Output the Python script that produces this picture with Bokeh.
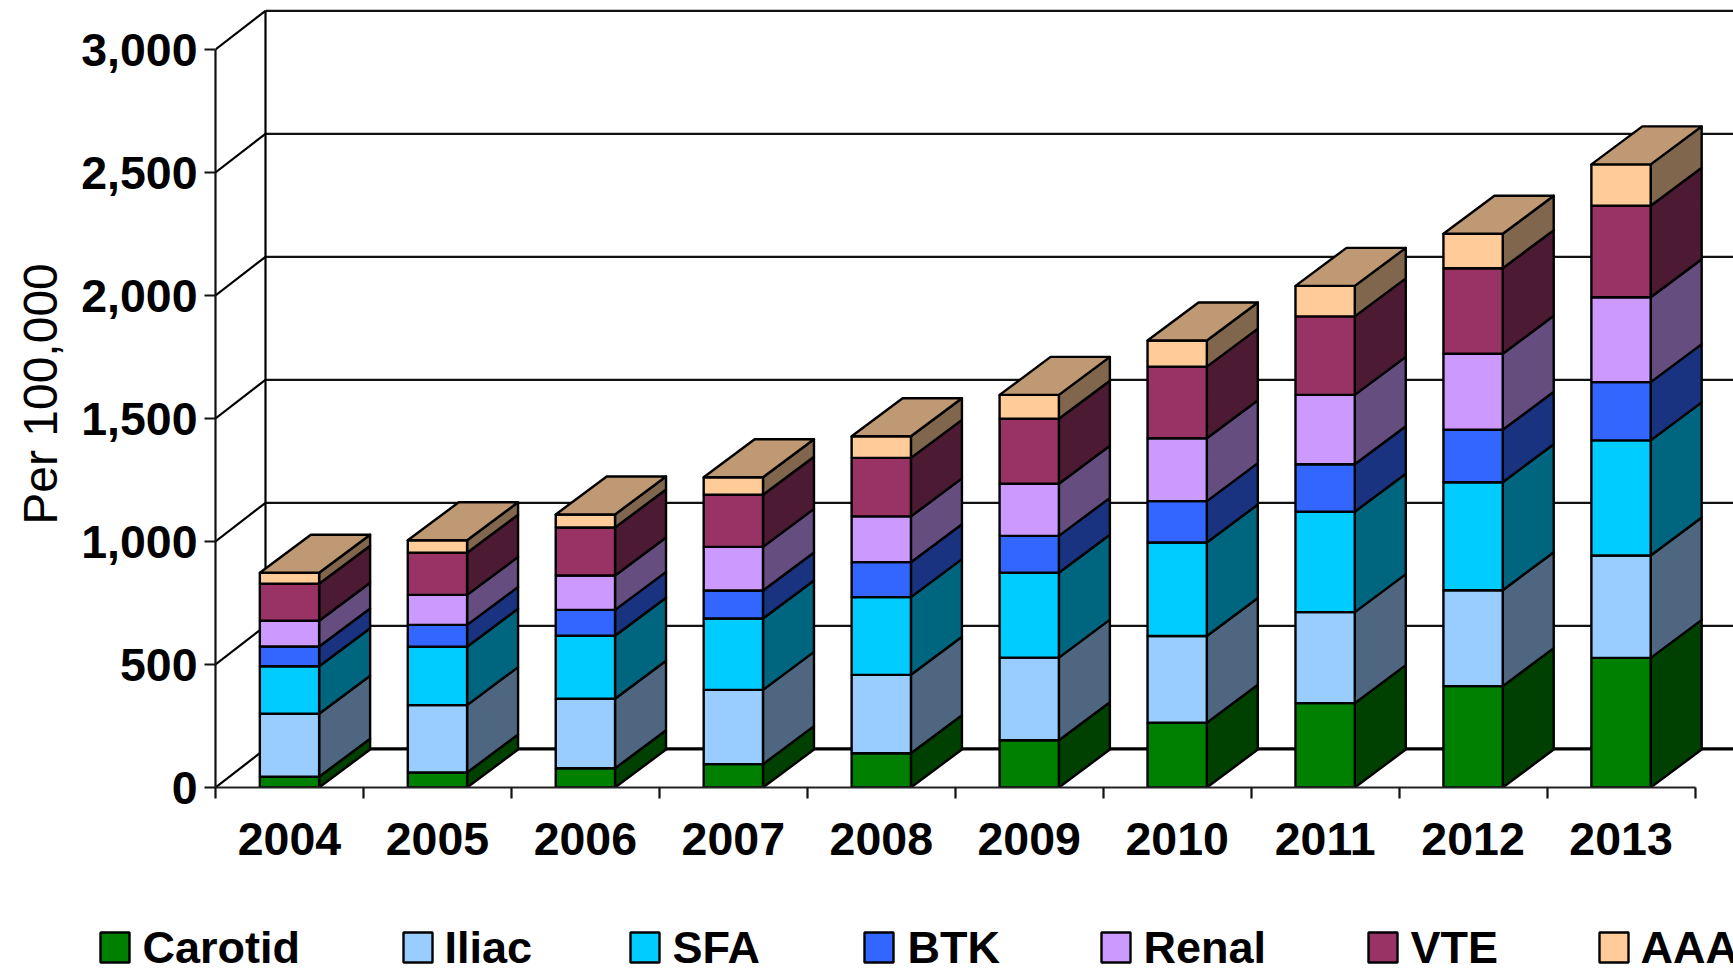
import numpy as np
from bokeh.core.properties import value
from bokeh.embed import file_html
from bokeh.models import FixedTicker, Range1d, Title
from bokeh.plotting import figure
from bokeh.resources import INLINE

# Procedures per 100,000, stacked from the bottom up
years = ["2004", "2005", "2006", "2007", "2008", "2009", "2010", "2011", "2012", "2013"]
carotid = [44, 61, 78, 95, 139, 192, 263, 343, 412, 527]
iliac = [256, 274, 283, 302, 319, 336, 353, 370, 390, 416]
sfa = [193, 237, 256, 290, 316, 345, 380, 408, 439, 468]
btk = [80, 89, 105, 114, 142, 150, 168, 193, 213, 237]
renal = [105, 122, 140, 177, 186, 212, 256, 282, 309, 345]
vte = [150, 171, 195, 212, 238, 264, 291, 319, 348, 372]
aaa = [45, 51, 53, 71, 88, 97, 106, 124, 140, 168]

names = ["Carotid", "Iliac", "SFA", "BTK", "Renal", "VTE", "AAA"]
stacks = [carotid, iliac, sfa, btk, renal, vte, aaa]
front_colors = ["#008000", "#99CCFF", "#00CCFF", "#3366FF", "#CC99FF", "#993366", "#FFCC99"]
side_colors = ["#004000", "#4F6680", "#006680", "#1A3380", "#664D80", "#4D1A33", "#80664D"]
top_color = "#BF9973"
y_ticks = [0, 500, 1000, 1500, 2000, 2500, 3000]
y_tick_labels = ["0", "500", "1,000", "1,500", "2,000", "2,500", "3,000"]

# Pixel layout of the plotting frame and the oblique projection
PX_PER_YEAR = 147.95
PX_PER_UNIT = 0.246
FRAME_LEFT = 215
FRAME_BOTTOM = 787
WIDTH = 1733
PAGE_HEIGHT = 970
MAIN_HEIGHT = 875
OUTLINE = 2.4
GRID = 2.2

x_end = (WIDTH - FRAME_LEFT) / PX_PER_YEAR
y_end = FRAME_BOTTOM / PX_PER_UNIT
wall_dx = 50 / PX_PER_YEAR
wall_dy = 38.7 / PX_PER_UNIT
bar_dx = 51 / PX_PER_YEAR
bar_dy = 38 / PX_PER_UNIT
bar_w = 59.3 / PX_PER_YEAR

p = figure(
    width=WIDTH, height=MAIN_HEIGHT,
    x_range=Range1d(0, x_end), y_range=Range1d(0, y_end),
    min_border_left=FRAME_LEFT, min_border_right=0, min_border_top=0,
    min_border_bottom=MAIN_HEIGHT - FRAME_BOTTOM,
    output_backend="svg", toolbar_location=None,
    background_fill_color="white", border_fill_color="white",
)
p.outline_line_color = None
p.grid.visible = False

# Value axis
yax = p.yaxis[0]
yax.ticker = FixedTicker(ticks=y_ticks)
yax.major_label_overrides = dict(zip(y_ticks, y_tick_labels))
yax.bounds = (0, 3000)
yax.major_tick_in = 0
yax.major_tick_out = 11
yax.minor_tick_line_color = None
yax.major_tick_line_width = GRID
yax.major_tick_line_color = "#111111"
yax.axis_line_width = GRID
yax.axis_line_color = "#111111"
yax.major_label_standoff = 7
yax.major_label_text_font = "Liberation Sans"
yax.major_label_text_font_style = "bold"
yax.major_label_text_font_size = "46.5px"
yax.major_label_text_color = "black"
yax.major_label_text_baseline = "alphabetic"

# Vertical title beside the value axis
p.add_layout(Title(
    text="Per 100,000", align="center", standoff=23,
    text_font="Liberation Sans", text_font_style="normal",
    text_font_size="48px", text_color="black",
), "left")

# Year axis: boundaries carry the tick marks, centres carry the labels
xax = p.xaxis[0]
centres = [i + 0.5 for i in range(len(years))]
xax.ticker = FixedTicker(ticks=centres, minor_ticks=list(range(len(years) + 1)))
xax.major_label_overrides = dict(zip(centres, years))
xax.bounds = (0, len(years))
xax.major_tick_in = 0
xax.major_tick_out = 0
xax.minor_tick_in = 0
xax.minor_tick_out = 11
xax.minor_tick_line_width = GRID
xax.minor_tick_line_color = "#111111"
xax.axis_line_width = GRID
xax.axis_line_color = "#222222"
xax.major_label_standoff = 24
xax.major_label_text_font = "Liberation Sans"
xax.major_label_text_font_style = "bold"
xax.major_label_text_font_size = "46.5px"
xax.major_label_text_color = "black"

# Back wall and floor of the box
ticks = np.array(y_ticks, dtype=float)
p.segment(x0=wall_dx, x1=x_end, y0=ticks[1:] + wall_dy, y1=ticks[1:] + wall_dy,
          line_color="#111111", line_width=GRID)
p.segment(x0=wall_dx, x1=x_end, y0=wall_dy, y1=wall_dy, line_color="black", line_width=3.2)
p.segment(x0=0, x1=wall_dx, y0=ticks, y1=ticks + wall_dy, line_color="black", line_width=GRID)
p.segment(x0=wall_dx, x1=wall_dx, y0=wall_dy, y1=3000 + wall_dy, line_color="black", line_width=GRID)

# Stacked bars: side faces, front faces, then the cap on each stack
lefts = np.array(centres) - bar_w / 2
rights = np.array(centres) + bar_w / 2
bottom = np.zeros(len(years))
for stack, front, side in zip(stacks, front_colors, side_colors):
    top = bottom + np.array(stack, dtype=float)
    side_xs = [[r, r + bar_dx, r + bar_dx, r] for r in rights]
    side_ys = [[b, b + bar_dy, t + bar_dy, t] for b, t in zip(bottom, top)]
    p.patches(side_xs, side_ys, fill_color=side, line_color="black", line_width=OUTLINE, line_join="round")
    p.quad(left=lefts, right=rights, bottom=bottom, top=top,
           fill_color=front, line_color="black", line_width=OUTLINE)
    bottom = top

cap_xs = [[l, r, r + bar_dx, l + bar_dx] for l, r in zip(lefts, rights)]
cap_ys = [[t, t, t + bar_dy, t + bar_dy] for t in bottom]
p.patches(cap_xs, cap_ys, fill_color=top_color, line_color="black", line_width=OUTLINE, line_join="round")

# Legend strip as its own root below the chart, in page pixel coordinates
strip = figure(
    width=WIDTH, height=PAGE_HEIGHT - MAIN_HEIGHT,
    x_range=Range1d(0, WIDTH), y_range=Range1d(PAGE_HEIGHT, MAIN_HEIGHT),
    x_axis_location=None, y_axis_location=None,
    min_border=0, output_backend="svg", toolbar_location=None,
    background_fill_color="white", border_fill_color="white",
)
strip.outline_line_color = None
strip.grid.visible = False

swatch_left = [100, 403, 630, 864, 1101, 1368, 1599]
text_left = [142, 444, 672, 907, 1143, 1410, 1640]
strip.quad(left=swatch_left, right=[s + 29 for s in swatch_left],
           top=[932] * len(names), bottom=[962] * len(names),
           fill_color=front_colors, line_color="black", line_width=OUTLINE)
strip.text(x=text_left, y=[946.5] * len(names), text=names,
           text_font=value("Liberation Sans"), text_font_style="bold", text_font_size="45px",
           text_color="black", text_baseline="middle", text_align="left")

open("out.html", "w").write(file_html((p, strip), INLINE))
